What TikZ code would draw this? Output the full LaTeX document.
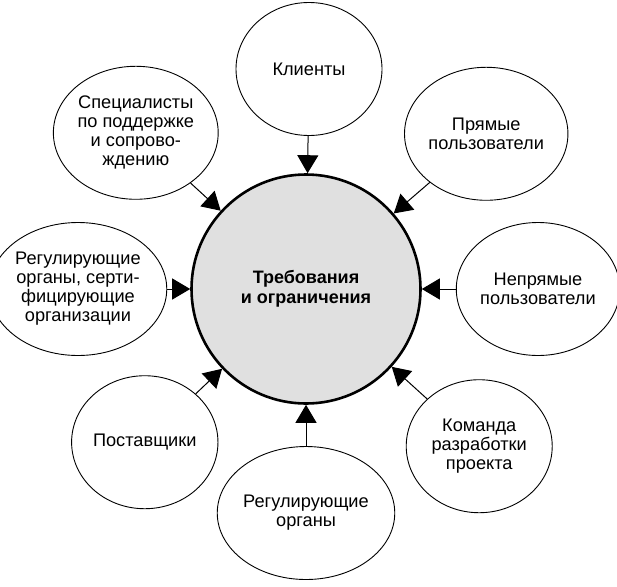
\documentclass[tikz,border=0pt]{standalone}
\usepackage{fontspec}
\setmainfont{Liberation Sans}
\usetikzlibrary{arrows.meta,shapes.geometric}

\begin{document}
\begin{tikzpicture}[x=1pt, y=-1pt, node distance={228pt}, line width=1pt, >={Triangle[length=18pt,width=21pt]},
  main/.style = {draw, circle, line width=2.6pt, fill=black!12, minimum size=229pt, inner sep=0pt, align=center, font=\fontsize{18}{19.5}\selectfont\bfseries},
  side/.style = {draw, ellipse, line width=0.9pt, minimum width=146pt, minimum height=133pt, inner sep=0pt, align=center, font=\fontsize{18.2}{19}\selectfont}]
\path[use as bounding box] (0,0) rectangle (617,586);
\node[main] (req) at (306,289) {Требования\\и ограничения};
\node[side] (kl) [above of=req, node distance=220pt, xshift=3pt] {Клиенты};
\node[side] (spec) [above left of=req, xshift=-9pt, yshift=-5pt] {Специалисты\\по поддержке\\и сопрово-\\ждению};
\node[side] (pr) [above right of=req, xshift=19pt, yshift=-6pt] {Прямые\\пользователи};
\node[side] (reg) [left of=req] {Регулирующие\\органы, серти-\\фицирующие\\организации};
\node[side] (nepr) [right of=req, node distance=232pt] {Непрямые\\пользователи};
\node[side] (post) [below left of=req, yshift=8pt] {Поставщики};
\node[side] (kom) [below right of=req, xshift=12pt, yshift=4pt] {Команда\\разработки\\проекта};
\node[side] (org) [below of=req, node distance=224pt] {Регулирующие\\органы};
\draw[->] (kl) -- (req);
\draw[->] (spec) -- (req);
\draw[->] (pr) -- (req);
\draw[->] (reg) -- (req);
\draw[->] (nepr) -- (req);
\draw[->] (post) -- (req);
\draw[->] (kom) -- (req);
\draw[->] (org) -- (req);
\end{tikzpicture}
\end{document}
